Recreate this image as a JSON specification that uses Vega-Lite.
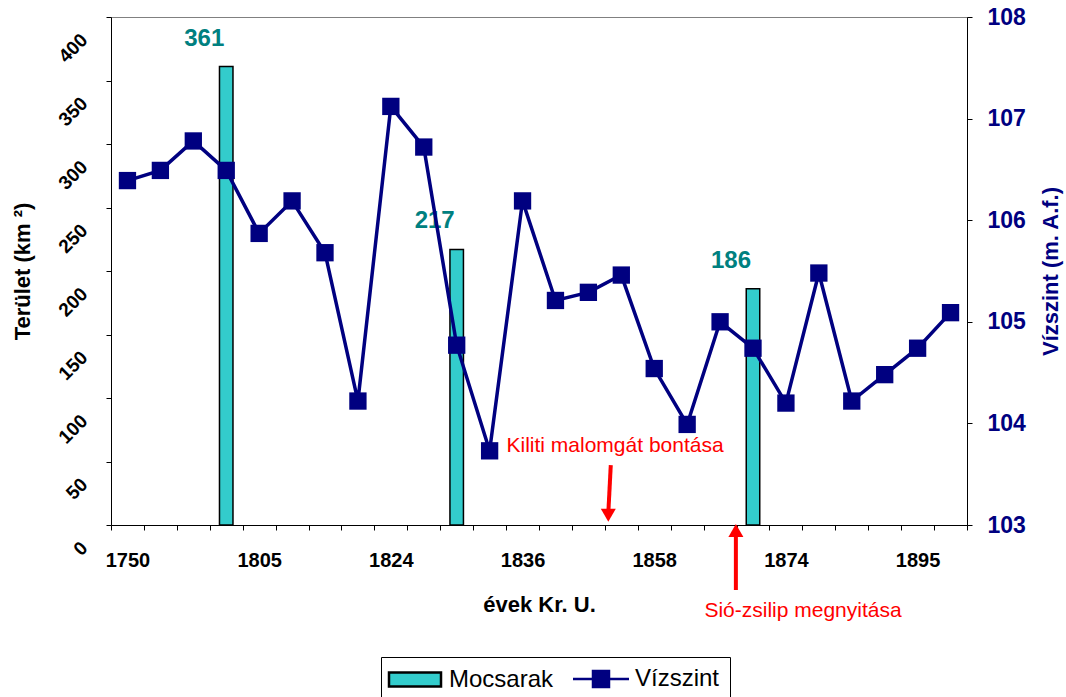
{
  "$schema": "https://vega.github.io/schema/vega-lite/v6.json",
  "width": 856,
  "height": 508,
  "autosize": "none",
  "padding": {"left": 111, "top": 17, "right": 99, "bottom": 172},
  "config": {
    "font": "Liberation Sans",
    "view": {"stroke": "#808080", "strokeWidth": 1},
    "axis": {"grid": false, "domainColor": "black", "tickColor": "black", "domainWidth": 1, "tickWidth": 1},
    "legend": {
      "orient": "none",
      "legendX": 270,
      "legendY": 640,
      "direction": "horizontal",
      "labelFontSize": 24,
      "labelColor": "black",
      "labelFont": "Liberation Sans",
      "symbolSize": 400,
      "symbolOffset": 12,
      "symbolOpacity": 1,
      "symbolStrokeWidth": 2.5,
      "labelOffset": 22,
      "columnPadding": 14,
      "padding": 10,
      "strokeColor": "black"
    }
  },
  "datasets": {
    "main": [
      {"ev": 1750, "vizszint": 106.39},
      {"ev": 1765, "vizszint": 106.49},
      {"ev": 1780, "vizszint": 106.78},
      {"ev": 1795, "vizszint": 106.49, "terulet": 361},
      {"ev": 1805, "vizszint": 105.87},
      {"ev": 1810, "vizszint": 106.19},
      {"ev": 1815, "vizszint": 105.68},
      {"ev": 1820, "vizszint": 104.22},
      {"ev": 1824, "vizszint": 107.12},
      {"ev": 1827, "vizszint": 106.72},
      {"ev": 1830, "vizszint": 104.77, "terulet": 217},
      {"ev": 1833, "vizszint": 103.73},
      {"ev": 1836, "vizszint": 106.19},
      {"ev": 1840, "vizszint": 105.21},
      {"ev": 1845, "vizszint": 105.29},
      {"ev": 1850, "vizszint": 105.46},
      {"ev": 1858, "vizszint": 104.54},
      {"ev": 1860, "vizszint": 103.99},
      {"ev": 1863, "vizszint": 105.0},
      {"ev": 1866, "vizszint": 104.74, "terulet": 186},
      {"ev": 1874, "vizszint": 104.2},
      {"ev": 1880, "vizszint": 105.48},
      {"ev": 1885, "vizszint": 104.22},
      {"ev": 1890, "vizszint": 104.48},
      {"ev": 1895, "vizszint": 104.74},
      {"ev": 1900, "vizszint": 105.09}
    ],
    "annot": [
      {"felirat": "Kiliti malomgát bontása", "x1": 15.18, "x2": 15.11, "y1": 47.2, "y2": 11.8, "hx": 15.105, "hy": 7.7, "irany": "le", "tx": 15.31, "ty": 57.5},
      {"felirat": "Sió-zsilip megnyitása", "x1": 18.98, "x2": 18.98, "y1": -51.2, "y2": -9.4, "hx": 18.98, "hy": -4.3, "irany": "fel", "tx": 21.02, "ty": -72.4}
    ],
    "sorozatok": [
      {"sorozat": "Mocsarak"},
      {"sorozat": "Vízszint"}
    ]
  },
  "layer": [
    {
      "data": {"name": "main"},
      "layer": [
        {
          "transform": [{"filter": "isValid(datum.terulet)"}],
          "mark": {"type": "bar", "color": "#33CCCC", "stroke": "black", "strokeWidth": 1.5, "width": {"band": 0.41}},
          "encoding": {
            "x": {
              "field": "ev", "type": "ordinal",
              "scale": {"paddingInner": 0, "paddingOuter": 0},
              "axis": {
                "orient": "bottom",
                "title": "évek Kr. U.",
                "tickBand": "extent",
                "labelAngle": 0,
                "labelExpr": "indexof([1750,1805,1824,1836,1858,1874,1895], datum.value) >= 0 ? datum.label : ''",
                "labelFontSize": 20,
                "labelFontWeight": "bold",
                "labelColor": "black",
                "labelPadding": 20,
                "labelOverlap": false,
                "tickSize": 5,
                "titleFontSize": 22,
                "titleFontWeight": "bold",
                "titleColor": "black",
                "titlePadding": 24
              }
            },
            "y": {
              "field": "terulet", "type": "quantitative",
              "scale": {"domain": [0, 400], "nice": false},
              "axis": {
                "orient": "left",
                "title": "Terület (km ²)",
                "values": [0, 50, 100, 150, 200, 250, 300, 350, 400],
                "labelAngle": -45,
                "labelAlign": "right",
                "labelBaseline": "middle",
                "labelPadding": 22,
                "labelOffset": 19.5,
                "labelFontSize": 19,
                "labelFontWeight": "bold",
                "labelColor": "black",
                "labelOverlap": false,
                "labelFlush": false,
                "tickSize": 5,
                "titleFontSize": 22,
                "titleFontWeight": "bold",
                "titleColor": "black",
                "titlePadding": 21
              }
            }
          }
        },
        {
          "transform": [{"filter": "isValid(datum.terulet)"}],
          "mark": {"type": "text", "fontSize": 24, "fontWeight": "bold", "color": "#008080", "dx": -22, "dy": -28, "baseline": "middle", "align": "center"},
          "encoding": {
            "x": {"field": "ev", "type": "ordinal"},
            "y": {"field": "terulet", "type": "quantitative", "scale": {"domain": [0, 400], "nice": false}, "axis": null},
            "text": {"field": "terulet", "type": "quantitative"}
          }
        },
        {
          "mark": {"type": "line", "color": "#000080", "strokeWidth": 3.5, "point": {"shape": "square", "size": 300, "filled": true, "opacity": 1, "color": "#000080"}},
          "encoding": {
            "x": {"field": "ev", "type": "ordinal"},
            "y": {
              "field": "vizszint", "type": "quantitative",
              "scale": {"domain": [103, 108], "nice": false, "zero": false},
              "axis": {
                "orient": "right",
                "title": "Vízszint (m. A.f.)",
                "values": [103, 104, 105, 106, 107, 108],
                "format": "d",
                "labelFontSize": 23,
                "labelFontWeight": "bold",
                "labelColor": "#000080",
                "labelPadding": 15,
                "labelFlush": false,
                "labelOverlap": false,
                "tickSize": 5,
                "titleColor": "#000080",
                "titleFontSize": 22,
                "titleFontWeight": "bold",
                "titleAngle": 270,
                "titleBaseline": "top",
                "titlePadding": 15
              }
            }
          }
        }
      ],
      "resolve": {"scale": {"y": "independent"}}
    },
    {
      "data": {"name": "annot"},
      "layer": [
        {
          "mark": {"type": "rule", "color": "#FF0000", "strokeWidth": 4},
          "encoding": {
            "x": {"field": "x1", "type": "quantitative", "scale": {"domain": [0, 26], "nice": false, "zero": false}, "axis": null},
            "x2": {"field": "x2"},
            "y": {"field": "y1", "type": "quantitative", "scale": {"domain": [0, 400], "nice": false}, "axis": null},
            "y2": {"field": "y2"}
          }
        },
        {
          "transform": [{"filter": "datum.irany === 'le'"}],
          "mark": {"type": "point", "shape": "triangle-down", "filled": true, "color": "#FF0000", "size": 225, "opacity": 1},
          "encoding": {
            "x": {"field": "hx", "type": "quantitative", "scale": {"domain": [0, 26], "nice": false, "zero": false}, "axis": null},
            "y": {"field": "hy", "type": "quantitative", "scale": {"domain": [0, 400], "nice": false}, "axis": null}
          }
        },
        {
          "transform": [{"filter": "datum.irany === 'fel'"}],
          "mark": {"type": "point", "shape": "triangle-up", "filled": true, "color": "#FF0000", "size": 225, "opacity": 1},
          "encoding": {
            "x": {"field": "hx", "type": "quantitative", "scale": {"domain": [0, 26], "nice": false, "zero": false}, "axis": null},
            "y": {"field": "hy", "type": "quantitative", "scale": {"domain": [0, 400], "nice": false}, "axis": null}
          }
        },
        {
          "mark": {"type": "text", "color": "#FF0000", "fontSize": 21, "align": "center", "baseline": "alphabetic"},
          "encoding": {
            "x": {"field": "tx", "type": "quantitative", "scale": {"domain": [0, 26], "nice": false, "zero": false}, "axis": null},
            "y": {"field": "ty", "type": "quantitative", "scale": {"domain": [0, 400], "nice": false}, "axis": null},
            "text": {"field": "felirat", "type": "nominal"}
          }
        }
      ]
    },
    {
      "data": {"name": "sorozatok"},
      "mark": {"type": "point", "filled": true, "opacity": 0, "size": 400},
      "encoding": {
        "shape": {
          "field": "sorozat", "type": "nominal",
          "scale": {"domain": ["Mocsarak", "Vízszint"], "range": ["M-2.6,-0.7H2.6V0.7H-2.6Z", "M-2.8,0H2.8M-0.8,-0.8H0.8V0.8H-0.8Z"]},
          "legend": {"title": null}
        },
        "fill": {
          "field": "sorozat", "type": "nominal",
          "scale": {"domain": ["Mocsarak", "Vízszint"], "range": ["#33CCCC", "#000080"]},
          "legend": {"title": null}
        },
        "stroke": {
          "field": "sorozat", "type": "nominal",
          "scale": {"domain": ["Mocsarak", "Vízszint"], "range": ["#000000", "#000080"]},
          "legend": {"title": null}
        }
      }
    }
  ],
  "resolve": {"scale": {"x": "independent", "y": "independent"}}
}
